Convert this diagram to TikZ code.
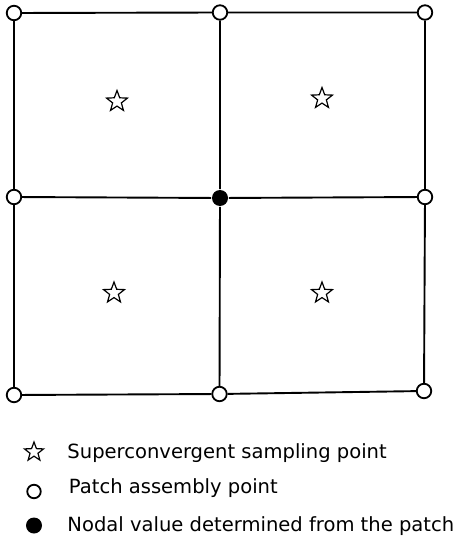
\documentclass[tikz,border=0pt]{standalone}
\usepackage{fontspec}
\setmainfont{DejaVu Sans}
\usetikzlibrary{shapes.geometric}
\begin{document}
\begin{tikzpicture}
    [
        x=1pt, y=-1pt,
        patch/.style={circle, draw, fill=white, minimum size=14.5pt, inner sep=0pt, line width=1.8pt},
        nodal/.style={circle, fill=black, minimum size=16pt, inner sep=0pt},
        sampling/.style={star, star points=5, star point ratio=2.4, draw, minimum size=22pt, inner sep=0pt, line width=1.2pt},
        legend/.style={anchor=base west, inner sep=0pt, font=\fontsize{19.55}{23}\selectfont},
        every path/.style={line width=1.9pt},
    ]
  \useasboundingbox (0,0) rectangle (456,540);

  % Nodes
  \node [patch] (A1) at (14,13) {};
  \node [patch] (A2) at (220,12.5) {};
  \node [patch] (A3) at (425,12.5) {};
  \node [patch] (B1) at (14,197) {};
  \node [nodal] (B2) at (220,198) {};
  \node [patch] (B3) at (425,197) {};
  \node [patch] (C1) at (14,395) {};
  \node [patch] (C2) at (219.5,394) {};
  \node [patch] (C3) at (424,391) {};

  \node [sampling] (S1) at (117,101.5) {};
  \node [sampling] (S2) at (322,98.5) {};
  \node [sampling] (S3) at (114,293) {};
  \node [sampling] (S4) at (322,293) {};

  % Connections
  \draw (A1) -- (A2) -- (A3);
  \draw (B1) -- (B2) -- (B3);
  \draw (C1) -- (C2) -- (C3);
  \draw (A1) -- (B1) -- (C1);
  \draw (A2) -- (B2) -- (C2);
  \draw (A3) -- (B3) -- (C3);

  % Legend
  \node [sampling, minimum size=20pt] (LS) at (34,452) {};
  \node [patch, minimum size=13.5pt] (LP) at (34,491.5) {};
  \node [nodal] (LN) at (34,525.5) {};
  \node [legend] (TS) at (66.5,458.5) {Superconvergent sampling point};
  \node [legend] (TP) at (68,493) {Patch assembly point};
  \node [legend] (TN) at (66.5,531) {Nodal value determined from the patch};
\end{tikzpicture}
\end{document}
